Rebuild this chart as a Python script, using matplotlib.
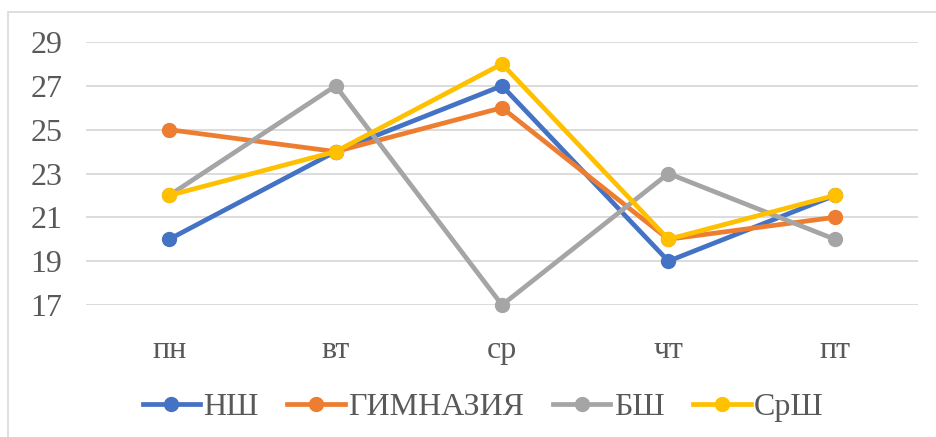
import matplotlib.pyplot as plt
from matplotlib.patches import Rectangle

plt.rcParams['font.family'] = ['Liberation Serif', 'DejaVu Serif']

days = ['пн', 'вт', 'ср', 'чт', 'пт']
series = ['НШ', 'ГИМНАЗИЯ', 'БШ', 'СрШ']
nsh = [20, 24, 27, 19, 22]
gimn = [25, 24, 26, 20, 21]
bsh = [22, 27, 17, 23, 20]
srsh = [22, 24, 28, 20, 22]
colors = ['#4472C4', '#ED7D31', '#A5A5A5', '#FFC000']
yticks = [17, 19, 21, 23, 25, 27, 29]

fig = plt.figure(figsize=(9.36, 4.37), dpi=100)
fig.patches.append(Rectangle((8 / 936, -0.1), 1.2, 1.1 - 12 / 437, transform=fig.transFigure,
                             fill=False, edgecolor='#D9D9D9', linewidth=1.2))
ax = fig.add_axes([86 / 936, 1 - 305 / 437, 832 / 936, 263 / 437])

x = range(len(days))
for vals, name, c in zip([nsh, gimn, bsh, srsh], series, colors):
    ax.plot(x, vals, color=c, lw=3.4, marker='o', ms=10, label=name, clip_on=False)

ax.set_xlim(-0.5, 4.5)
ax.set_ylim(17, 29)
ax.set_yticks(yticks)
ax.set_xticks(list(x))
ax.set_xticklabels(days)
ax.grid(axis='y', color='#D9D9D9', lw=1.3)
ax.set_axisbelow(True)
for s in ax.spines.values():
    s.set_visible(False)
ax.tick_params(length=0, labelsize=23, labelcolor='#595959')
ax.tick_params(axis='y', pad=17)
ax.tick_params(axis='x', pad=22)

fig.legend(loc='center', bbox_to_anchor=(483 / 936, 1 - 407 / 437), ncol=4, frameon=False,
           fontsize=23, handlelength=1.8, handletextpad=0.1, columnspacing=0.9,
           labelcolor='#595959')

fig.savefig('out.png', dpi=100)
